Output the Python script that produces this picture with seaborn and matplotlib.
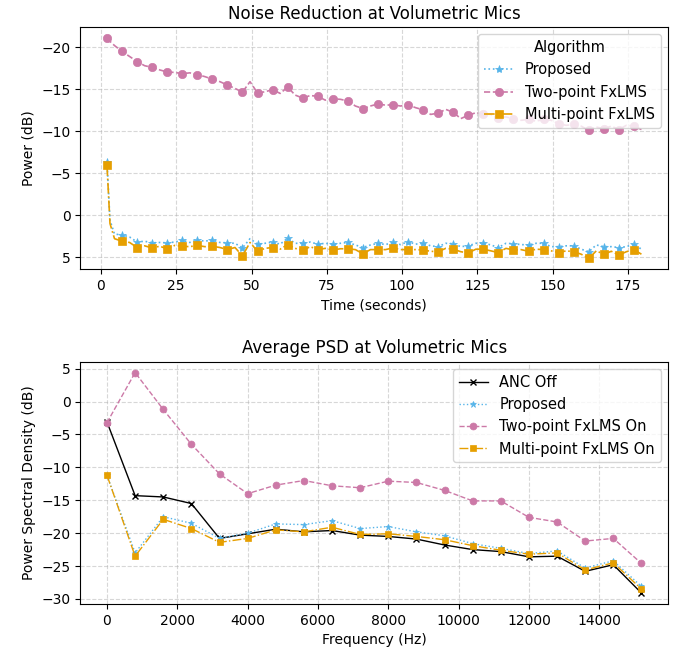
import numpy as np
import seaborn as sns
import matplotlib.pyplot as plt
from matplotlib.ticker import MultipleLocator


# --- top panel: noise reduction over time (dB) ---
time_s = [2, 3, 4.5, 7, 9.5, 12, 14.5, 17, 19.5, 22, 24.5, 27, 29.5, 32, 34.5,
          37, 39.5, 42, 44.5, 47, 49.5, 52, 54.5, 57, 59.5, 62, 64.5, 67, 69.5,
          72, 74.5, 77, 79.5, 82, 84.5, 87, 89.5, 92, 94.5, 97, 99.5, 102, 104.5,
          107, 109.5, 112, 114.5, 117, 119.5, 122, 124.5, 127, 129.5, 132, 134.5,
          137, 139.5, 142, 144.5, 147, 149.5, 152, 154.5, 157, 159.5, 162, 164.5,
          167, 169.5, 172, 174.5, 177, 179.5]

proposed_t = [-6.35, 0.6, 2.25, 2.35, 2.6, 3.2, 3.1, 3.3, 3.25, 3.3, 3.2, 3.0,
              3.25, 2.95, 3.1, 2.95, 3.25, 3.3, 3.35, 3.9, 2.8, 3.45, 3.35, 3.2,
              3.45, 2.75, 3.35, 3.35, 3.2, 3.45, 3.35, 3.45, 3.35, 3.25, 3.55,
              3.85, 3.55, 3.35, 3.5, 3.25, 3.5, 3.15, 3.45, 3.35, 3.65, 3.75,
              3.35, 3.4, 3.75, 3.65, 3.35, 3.3, 3.55, 3.85, 3.35, 3.4, 3.5, 3.55,
              3.35, 3.35, 3.75, 3.75, 3.65, 3.65, 4.05, 4.35, 3.55, 3.75, 3.75,
              3.85, 3.75, 3.45, 4.05]

two_point_t = [-21.1, -20.7, -20.2, -19.5, -18.9, -18.3, -17.8, -17.6, -17.3,
               -17.05, -17.0, -16.85, -16.95, -16.75, -16.5, -16.2, -15.9, -15.5,
               -15.1, -14.65, -15.9, -14.55, -14.7, -14.95, -14.5, -15.25, -14.3,
               -13.95, -14.25, -14.15, -13.7, -13.85, -13.8, -13.6, -13.0, -12.7,
               -13.0, -13.25, -13.1, -13.15, -13.0, -13.15, -12.8, -12.55, -12.0,
               -12.15, -12.6, -12.25, -11.5, -11.9, -12.2, -12.05, -12.0, -11.6,
               -11.7, -11.5, -11.3, -11.4, -11.2, -11.4, -11.3, -10.9, -10.7,
               -10.8, -10.6, -10.1, -10.5, -10.3, -10.6, -10.2, -10.7, -10.6, -10.2]

multi_point_t = [-5.95, 1.0, 2.8, 3.1, 3.25, 3.85, 3.65, 3.9, 3.7, 4.0, 3.6, 3.7,
                 3.75, 3.6, 3.75, 3.7, 3.85, 4.1, 3.85, 4.85, 3.25, 4.3, 3.95,
                 3.85, 4.05, 3.5, 3.95, 4.2, 3.75, 4.1, 3.95, 4.15, 4.0, 4.0, 4.1,
                 4.6, 4.1, 4.1, 4.1, 3.9, 4.1, 4.1, 4.1, 4.15, 4.3, 4.35, 3.95,
                 4.05, 4.35, 4.5, 4.05, 4.05, 4.25, 4.45, 3.95, 4.15, 4.1, 4.3,
                 4.05, 4.1, 4.25, 4.45, 4.25, 4.35, 4.65, 5.15, 4.25, 4.65, 4.3,
                 4.75, 4.35, 4.1, 4.65]

# --- bottom panel: average PSD (dB) ---
freq_hz = [0, 800, 1600, 2400, 3200, 4000, 4800, 5600, 6400, 7200, 8000, 8800,
           9600, 10400, 11200, 12000, 12800, 13600, 14400, 15200]
anc_off = [-3.1, -14.3, -14.5, -15.5, -20.8, -20.1, -19.4, -19.8, -19.6, -20.3,
           -20.5, -20.9, -21.8, -22.5, -22.8, -23.6, -23.5, -25.8, -24.8, -29.1]
proposed_f = [-11.2, -23.0, -17.5, -18.5, -20.8, -20.0, -18.6, -18.7, -18.1,
              -19.3, -19.0, -19.8, -20.4, -21.6, -22.3, -23.1, -22.7, -25.3,
              -24.2, -28.1]
two_point_f = [-3.2, 4.4, -1.2, -6.5, -11.0, -14.0, -12.7, -12.0, -12.8, -13.1,
               -12.1, -12.3, -13.5, -15.1, -15.1, -17.6, -18.3, -21.2, -20.8, -24.6]
multi_point_f = [-11.2, -23.5, -17.9, -19.3, -21.4, -20.8, -19.5, -19.8, -19.1,
                 -20.2, -20.1, -20.5, -21.0, -21.9, -22.6, -23.2, -23.0, -25.6,
                 -24.5, -28.5]

c_blue, c_pink, c_orange = "#56B4E9", "#CC79A7", "#E69F00"

# markers every 5 s on the time series
mark_idx = [i for i, t in enumerate(time_s) if (t - 2) % 5 == 0]

fig, (ax1, ax2) = plt.subplots(2, 1, figsize=(6.86, 6.58), dpi=100)
fig.subplots_adjust(left=0.117, right=0.974, top=0.959, bottom=0.082, hspace=0.38)

top_series = [
    ("Proposed", proposed_t, c_blue, ":", "*"),
    ("Two-point FxLMS", two_point_t, c_pink, "--", "o"),
    ("Multi-point FxLMS", multi_point_t, c_orange, "-.", "s"),
]
for name, vals, col, ls, mk in top_series:
    sns.lineplot(x=time_s, y=vals, ax=ax1, color=col, linestyle=ls, marker=mk,
                 markevery=mark_idx, markersize=6, markeredgecolor=col,
                 markeredgewidth=0.5, linewidth=1.2, label=name)

ax1.invert_yaxis()
ax1.set_title("Noise Reduction at Volumetric Mics", fontsize=12)
ax1.set_xlabel("Time (seconds)")
ax1.set_ylabel("Power (dB)")
ax1.xaxis.set_major_locator(MultipleLocator(25))
ax1.yaxis.set_major_locator(MultipleLocator(5))
ax1.grid(True, linestyle="--", alpha=0.5)
ax1.legend(title="Algorithm", loc="upper right", fontsize=10.5, title_fontsize=10.5)

bottom_series = [
    ("ANC Off", anc_off, "black", "-", "x"),
    ("Proposed", proposed_f, c_blue, ":", "*"),
    ("Two-point FxLMS On", two_point_f, c_pink, "--", "o"),
    ("Multi-point FxLMS On", multi_point_f, c_orange, "-.", "s"),
]
for name, vals, col, ls, mk in bottom_series:
    sns.lineplot(x=freq_hz, y=vals, ax=ax2, color=col, linestyle=ls, marker=mk,
                 markersize=4.5 if mk == "x" else 5, markeredgecolor=col,
                 markeredgewidth=1 if mk == "x" else 0.5,
                 linewidth=1.0, label=name)

ax2.set_title("Average PSD at Volumetric Mics", fontsize=12)
ax2.set_xlabel("Frequency (Hz)")
ax2.set_ylabel("Power Spectral Density (dB)")
ax2.xaxis.set_major_locator(MultipleLocator(2000))
ax2.yaxis.set_major_locator(MultipleLocator(5))
ax2.grid(True, linestyle="--", alpha=0.5)
ax2.legend(loc="upper right", fontsize=10.5)

fig.savefig("out.png", dpi=100)
